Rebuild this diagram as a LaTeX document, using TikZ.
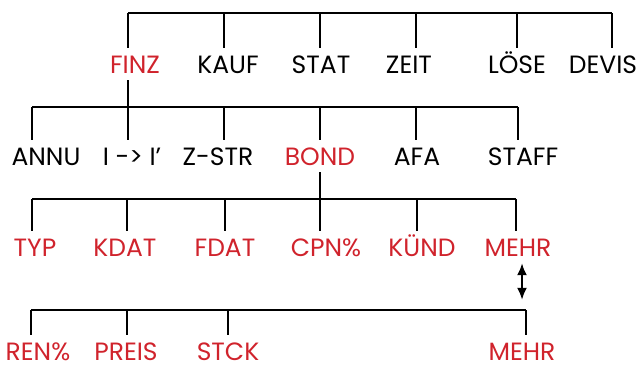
\documentclass[tikz,border=0pt]{standalone}
\usepackage{fontspec}
\setmainfont{Poppins}
\usetikzlibrary{arrows.meta}
\definecolor{menured}{HTML}{D0232C}

\begin{document}
\begin{tikzpicture}[x=1pt, y=1pt,
  menukey/.style={anchor=base, inner sep=0pt, inner ysep=7pt, text height=18pt, text depth=0pt, font=\fontsize{25}{25}\selectfont},
  softkey/.style={menukey, text=menured},
  branch/.style={line width=2.1pt}]
  \useasboundingbox (0,0) rectangle (639,-365);

  % top menu row
  \node[softkey] (finz)  at (135,-73) {FINZ};
  \node[menukey] (kauf)  at (228,-73) {KAUF};
  \node[menukey] (stat)  at (321,-73) {STAT};
  \node[menukey] (zeit)  at (409,-73) {ZEIT};
  \node[menukey] (loese) at (517,-73) {LÖSE};
  \node[menukey] (devis) at (603,-73) {DEVIS};

  % FINZ menu
  \node[menukey] (annu)  at (46,-165)  {ANNU};
  \node[menukey] (iconv) at (132,-165) {I -{}> I’};
  \node[menukey] (zstr)  at (218,-165) {Z-STR};
  \node[softkey] (bond)  at (320,-165) {BOND};
  \node[menukey] (afa)   at (417,-165) {AFA};
  \node[menukey] (staff) at (523,-165) {STAFF};

  % BOND menu, page 1
  \node[softkey] (typ)   at (35,-256)  {TYP};
  \node[softkey] (kdat)  at (125,-256) {KDAT};
  \node[softkey] (fdat)  at (225,-256) {FDAT};
  \node[softkey] (cpn)   at (326,-256) {CPN\%};
  \node[softkey] (kuend) at (422,-256) {KÜND};
  \node[softkey] (mehrA) at (518,-256) {MEHR};

  % BOND menu, page 2
  \node[softkey] (ren)   at (38,-360)  {REN\%};
  \node[softkey] (preis) at (126,-360) {PREIS};
  \node[softkey] (stck)  at (228,-360) {STCK};
  \node[softkey] (mehrB) at (522,-360) {MEHR};

  % branches
  \draw[branch] (128,-13) -- (612,-13);
  \foreach \n/\x in {finz/128, kauf/224, stat/320, zeit/416, loese/517, devis/612}
    \draw[branch] (\x,-13) -- (\x,-13 |- \n.north);

  \draw[branch] (128,0 |- finz.south) -- (128,-107);
  \draw[branch] (32,-107) -- (518,-107);
  \foreach \n/\x in {annu/32, iconv/128, zstr/224, bond/320, afa/416, staff/518}
    \draw[branch] (\x,-107) -- (\x,-107 |- \n.north);

  \draw[branch] (bond.south) -- (bond.south |- 0,-199);
  \draw[branch] (32,-199) -- (516,-199);
  \foreach \n/\x in {typ/32, kdat/127, fdat/225, cpn/320, kuend/417, mehrA/516}
    \draw[branch] (\x,-199) -- (\x,-199 |- \n.north);

  \draw[branch] (31,-310) -- (526,-310);
  \foreach \n/\x in {ren/31, preis/127, stck/228, mehrB/526}
    \draw[branch] (\x,-310) -- (\x,-310 |- \n.north);

  % page switch
  \draw[line width=2pt, {Latex[length=12pt,width=10pt]}-{Latex[length=12pt,width=10pt]}, shorten >=35pt]
    ([xshift=4pt]mehrA.south) -- ([xshift=4pt]mehrA.south |- mehrB.north);
\end{tikzpicture}
\end{document}
